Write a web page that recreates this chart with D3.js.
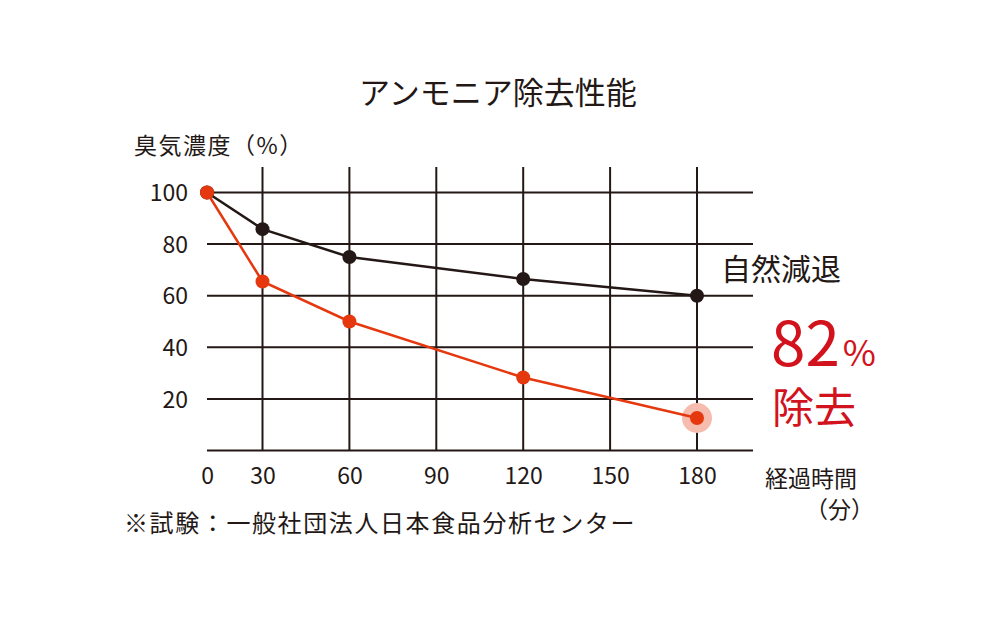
<!DOCTYPE html>
<html><head><meta charset="utf-8">
<script src="https://cdn.jsdelivr.net/npm/d3@7"></script>
<style>html,body{margin:0;padding:0;background:#fff}</style>
</head><body>
<script>
const times = [0, 30, 60, 120, 180];
const naturalDecay = [100, 85.8, 75, 66.5, 60];
const withProduct = [100, 65.5, 50, 28.3, 12.6];
const xTicks = [0, 30, 60, 90, 120, 150, 180];
const yTicks = [20, 40, 60, 80, 100];

const W = 1001, H = 617;
const font = "'Noto Sans CJK JP','Noto Sans',sans-serif";
const ink = "#231815", red = "#e6380f", textRed = "#d2121c";

const svg = d3.select("body").append("svg").attr("width", W).attr("height", H)
  .style("font-family", font);

const x = d3.scaleLinear().domain([0, 30, 180]).range([207, 262.5, 697]);
const y = d3.scaleLinear().domain([0, 100]).range([450.5, 192.5]);

// grid
const g = svg.append("g");
g.selectAll(".h").data([0, ...yTicks]).join("line")
  .attr("x1", 207).attr("x2", 753)
  .attr("y1", d => y(d)).attr("y2", d => y(d))
  .attr("stroke", ink).attr("stroke-width", 2);
g.selectAll(".v").data(xTicks.filter(d => d > 0)).join("line")
  .attr("x1", d => x(d)).attr("x2", d => x(d))
  .attr("y1", 167).attr("y2", y(0))
  .attr("stroke", ink).attr("stroke-width", 2);

// axes labels
const yAxis = d3.axisLeft(y).tickValues(yTicks).tickSize(0).tickPadding(0);
const ya = svg.append("g").attr("transform", "translate(188,0)").call(yAxis);
ya.select(".domain").remove();
ya.selectAll("text").attr("font-size", 23).attr("fill", ink).attr("font-family", font).attr("dy", "0.36em");

const xAxis = d3.axisBottom(x).tickValues(xTicks).tickSize(0).tickPadding(0);
const xa = svg.append("g").attr("transform", "translate(0,470)").call(xAxis);
xa.select(".domain").remove();
xa.selectAll("text").attr("font-size", 23).attr("fill", ink).attr("font-family", font).attr("dy", "0.6em");

// lines
const line = d3.line().x((d, i) => x(times[i])).y(d => y(d));
svg.append("path").datum(naturalDecay).attr("d", line)
  .attr("fill", "none").attr("stroke", ink).attr("stroke-width", 2.5);
svg.selectAll(".bp").data(naturalDecay).join("circle")
  .attr("cx", (d, i) => x(times[i])).attr("cy", d => y(d)).attr("r", 7).attr("fill", ink);

svg.append("circle").attr("cx", x(times[4])).attr("cy", y(withProduct[4])).attr("r", 15).attr("fill", "#f6bcae");
svg.append("path").datum(withProduct).attr("d", line)
  .attr("fill", "none").attr("stroke", red).attr("stroke-width", 2.5);
svg.selectAll(".rp").data(withProduct).join("circle")
  .attr("cx", (d, i) => x(times[i])).attr("cy", d => y(d)).attr("r", 7).attr("fill", red);

// texts
svg.append("text").attr("x", 498).attr("y", 104).attr("text-anchor", "middle")
  .attr("font-size", 31).attr("fill", ink).text("アンモニア除去性能");
svg.append("text").attr("x", 134).attr("y", 154).attr("letter-spacing", 1.5)
  .attr("font-size", 23).attr("fill", ink).text("臭気濃度（%）");
svg.append("text").attr("x", 765).attr("y", 487)
  .attr("font-size", 23).attr("fill", ink).text("経過時間");
svg.append("text").attr("x", 874).attr("y", 518).attr("text-anchor", "end")
  .attr("font-size", 23).attr("fill", ink).text("（分）");
svg.append("text").attr("x", 124).attr("y", 532).attr("letter-spacing", 1.6)
  .attr("font-size", 24).attr("fill", ink).text("※試験：一般社団法人日本食品分析センター");
svg.append("text").attr("x", 721).attr("y", 280)
  .attr("font-size", 30).attr("fill", ink).text("自然減退");
const t82 = svg.append("text").attr("x", 771).attr("y", 366).attr("fill", textRed);
t82.append("tspan").attr("font-size", 62).text("82");
t82.append("tspan").attr("font-size", 36).attr("dx", 3).text("%");
t82.append("tspan").attr("x", 772).attr("y", 423).attr("font-size", 42).text("除去");
</script>
</body></html>
